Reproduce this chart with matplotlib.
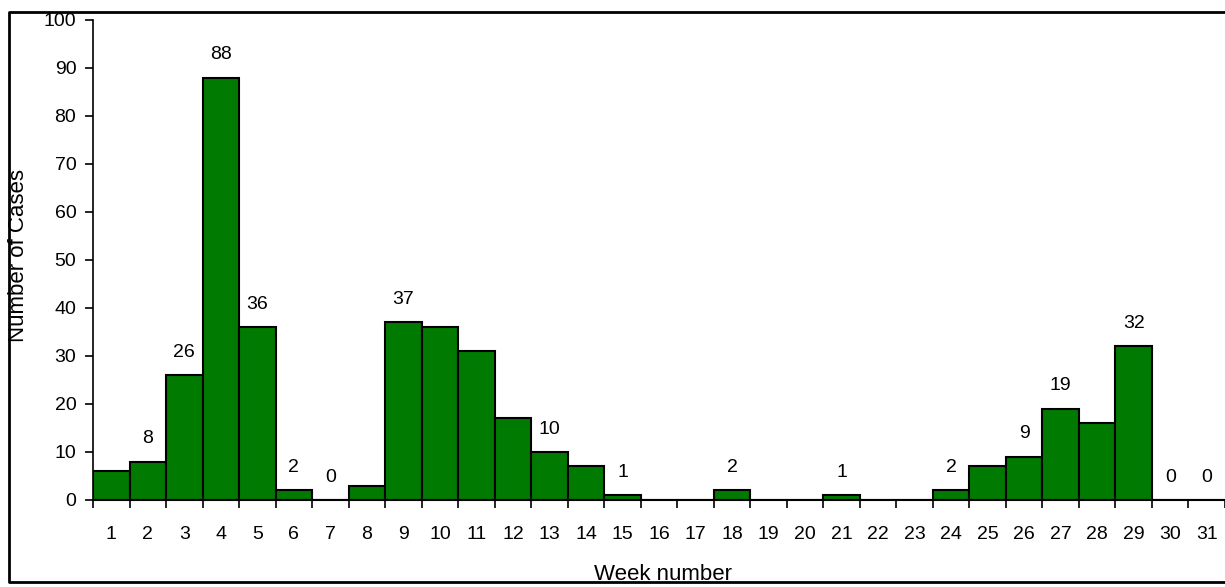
import numpy as np
import matplotlib.pyplot as plt
from matplotlib.lines import Line2D

weeks = list(range(1, 32))
cases = [6, 8, 26, 88, 36, 2, 0, 3, 37, 36, 31, 17, 10, 7, 1, 0, 0, 2, 0, 0,
         1, 0, 0, 2, 7, 9, 19, 16, 32, 0, 0]
labelled_weeks = [2, 3, 4, 5, 6, 7, 9, 13, 15, 18, 21, 24, 26, 27, 29, 30, 31]

plt.rcParams['font.family'] = ['Liberation Sans', 'DejaVu Sans']

fig = plt.figure(figsize=(12.25, 5.87), dpi=100)
ax = fig.add_axes([93 / 1225, 1 - 500 / 587, 1 - 93 / 1225, 480 / 587])

ax.bar(weeks, cases, width=1.0, color='#007A00', edgecolor='black', linewidth=1.5)

for w in labelled_weeks:
    v = cases[w - 1]
    ax.annotate(str(v), (w, v), xytext=(0, 16.5), textcoords='offset points',
                ha='center', va='center', fontsize=14)

ax.set_xlim(0.5, 31.5)
ax.set_ylim(0, 100)
ax.set_yticks(range(0, 101, 10))
ax.set_xticks(weeks)
ax.set_xticks(np.arange(0.5, 31.6, 1), minor=True)
ax.tick_params(axis='x', which='major', length=0, pad=19, labelsize=14)
ax.tick_params(axis='x', which='minor', length=6, width=1.2, direction='out')
ax.tick_params(axis='y', length=6, width=1.2, pad=6, labelsize=14)

for s in ['top', 'right']:
    ax.spines[s].set_visible(False)
ax.spines['left'].set_linewidth(1.2)
ax.spines['bottom'].set_linewidth(1.5)

fig.text(19 / 1225, 1 - 255 / 587, 'Number of Cases', rotation=90,
         ha='center', va='center', fontsize=16)
fig.text(663 / 1225, 1 - 575 / 587, 'Week number', ha='center', va='center',
         fontsize=16)

# outer frame
fx = [1.0, 8.5 / 1225, 8.5 / 1225, 1.0]
fy = [1 - 11.5 / 587, 1 - 11.5 / 587, 1 - 581.5 / 587, 1 - 581.5 / 587]
fig.add_artist(Line2D(fx, fy, color='black', linewidth=2, zorder=10))

plt.savefig('out.png', dpi=100)
